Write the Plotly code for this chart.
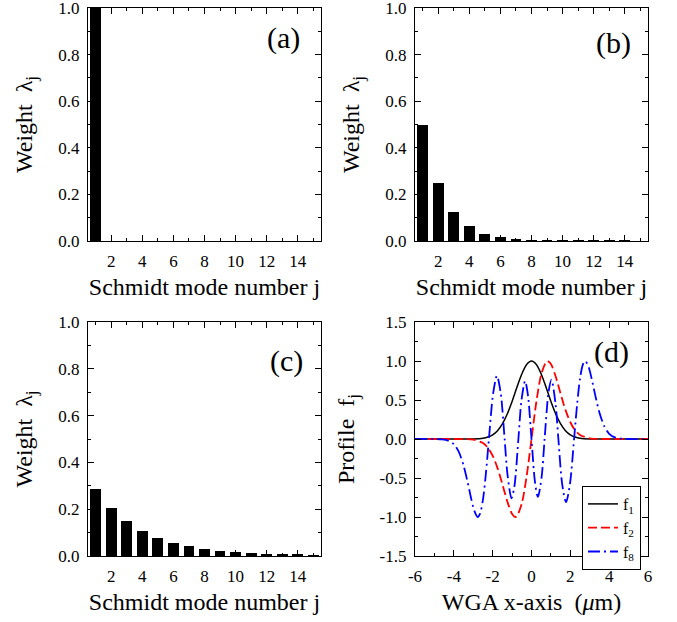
import plotly.graph_objects as go

# ---------------- data ----------------
modes = [1, 2, 3, 4, 5, 6, 7, 8, 9, 10, 11, 12, 13, 14, 15]
weights_a = [1.0, 0, 0, 0, 0, 0, 0, 0, 0, 0, 0, 0, 0, 0, 0]
weights_b = [0.5, 0.25, 0.125, 0.0625, 0.031, 0.016, 0.008, 0.004, 0.002,
             0.001, 0.0005, 0.0003, 0.0001, 0.0001, 0.0]
weights_c = [0.286, 0.205, 0.148, 0.106, 0.077, 0.056, 0.041, 0.030, 0.022,
             0.016, 0.012, 0.009, 0.007, 0.005, 0.004]

x_f12 = [-6, -5, -4, -3.5, -3, -2.5, -2.25, -2, -1.75, -1.5, -1.25, -1, -0.83,
         -0.75, -0.5, -0.25, 0, 0.25, 0.5, 0.75, 0.83, 1, 1.25, 1.5, 1.75, 2,
         2.25, 2.5, 3, 3.5, 4, 5, 6]
f1 = [0, 0, 0, 0, 0.001, 0.010, 0.025, 0.054, 0.107, 0.194, 0.320, 0.482, 0.605,
      0.663, 0.833, 0.955, 1.0, 0.955, 0.833, 0.663, 0.605, 0.482, 0.320, 0.194,
      0.107, 0.054, 0.025, 0.010, 0.001, 0, 0, 0, 0]
f2 = [0, 0, 0, -0.001, -0.008, -0.052, -0.111, -0.215, -0.373, -0.579, -0.797,
      -0.961, -1.0, -0.987, -0.827, -0.476, 0, 0.476, 0.827, 0.987, 1.0, 0.961,
      0.797, 0.579, 0.373, 0.215, 0.111, 0.052, 0.008, 0.001, 0, 0, 0]

x_f8 = [-6, -5, -4.6, -4.3, -4.0, -3.75, -3.5, -3.3, -3.1, -2.95, -2.77, -2.65,
        -2.5, -2.35, -2.193, -1.98, -1.78, -1.58, -1.384, -1.24, -1.03, -0.88,
        -0.675, -0.52, -0.33, -0.18, 0, 0.18, 0.33, 0.52, 0.675, 0.88, 1.03,
        1.24, 1.384, 1.58, 1.78, 1.98, 2.193, 2.35, 2.5, 2.65, 2.77, 2.95, 3.1,
        3.3, 3.5, 3.75, 4.0, 4.3, 4.6, 5, 6]
f8 = [0, 0, -0.005, -0.020, -0.067, -0.163, -0.338, -0.542, -0.771, -0.917, -1.0,
      -0.957, -0.776, -0.446, 0, 0.577, 0.81, 0.578, 0, -0.447, -0.76, -0.607,
      0, 0.489, 0.743, 0.554, 0, -0.554, -0.743, -0.489, 0, 0.607, 0.76, 0.447,
      0, -0.578, -0.81, -0.577, 0, 0.446, 0.776, 0.957, 1.0, 0.917, 0.771,
      0.542, 0.338, 0.163, 0.067, 0.020, 0.005, 0, 0]

mode_ticks = [2, 4, 6, 8, 10, 12, 14]
weight_ticks = [0.0, 0.2, 0.4, 0.6, 0.8, 1.0]
profile_ticks = [-1.5, -1.0, -0.5, 0.0, 0.5, 1.0, 1.5]
profile_ticktext = ["-1.5", "-1.0", "-0.5", "0.0", "0.5", "1.0", "1.5"]
wga_ticks = [-6, -4, -2, 0, 2, 4, 6]
wga_ticktext = ["-6", "-4", "-2", "0", "2", "4", "6"]

# ---------------- layout helpers ----------------
W, H = 677, 622
FONT = "'Liberation Serif', 'Times New Roman', Times, serif"


def xdom(x0, x1):
    return [x0 / W, x1 / W]


def ydom(ytop, ybot):
    return [1 - ybot / H, 1 - ytop / H]


def base_axis(**kw):
    d = dict(showline=True, linecolor="black", linewidth=1.2, mirror="allticks",
             ticks="inside", ticklen=6, tickwidth=1.2, tickcolor="black",
             showgrid=False, zeroline=False, ticklabelstandoff=4, automargin=False,
             ticklabeloverflow="allow",
             tickfont=dict(family=FONT, size=17, color="black"),
             title_font=dict(family=FONT, size=24, color="black"))
    d.update(kw)
    return d


fig = go.Figure()

panels = [("x", "y", weights_a), ("x2", "y2", weights_b), ("x3", "y3", weights_c)]
for xa, ya, w in panels:
    fig.add_trace(go.Bar(x=modes, y=w, width=0.7, marker_color="black",
                         marker_line_width=0, xaxis=xa, yaxis=ya, showlegend=False))

fig.add_trace(go.Scatter(x=x_f12, y=f1, mode="lines", name="f<sub>1</sub>",
                         line=dict(color="black", width=1.5, shape="spline", smoothing=0.8),
                         xaxis="x4", yaxis="y4"))
fig.add_trace(go.Scatter(x=x_f12, y=f2, mode="lines", name="f<sub>2</sub>",
                         line=dict(color="#ff0000", width=1.8, dash="9px,4px",
                                   shape="spline", smoothing=0.8),
                         xaxis="x4", yaxis="y4"))
fig.add_trace(go.Scatter(x=x_f8, y=f8, mode="lines", name="f<sub>8</sub>",
                         line=dict(color="#0000ff", width=1.8, dash="12px,4px,2px,4px",
                                   shape="spline", smoothing=0.8),
                         xaxis="x4", yaxis="y4"))

mode_axis = dict(range=[0.5, 15.5], tickmode="array", tickvals=mode_ticks,
                 minor=dict(tickmode="linear", tick0=1, dtick=2, ticks="inside",
                            ticklen=3, tickwidth=1.2, tickcolor="black"),
                 title=dict(text="Schmidt mode number j", standoff=8))
weight_axis = dict(range=[0, 1.0], tickmode="array", tickvals=weight_ticks,
                   tickformat=".1f",
                   minor=dict(tickmode="linear", tick0=0.1, dtick=0.2, ticks="inside",
                              ticklen=3, tickwidth=1.2, tickcolor="black"),
                   title=dict(text="Weight  λ<sub>j</sub>", standoff=18))

L = xdom(88, 321)
R = xdom(415, 648)
T = ydom(8, 241)
B = ydom(322, 556)

fig.update_layout(
    width=W, height=H, autosize=False,
    margin=dict(l=0, r=0, t=0, b=0),
    paper_bgcolor="white", plot_bgcolor="white",
    font=dict(family=FONT, size=17, color="black"),
    bargap=0,
    xaxis=base_axis(domain=L, anchor="y", **mode_axis),
    yaxis=base_axis(domain=T, anchor="x", **weight_axis),
    xaxis2=base_axis(domain=R, anchor="y2", **mode_axis),
    yaxis2=base_axis(domain=T, anchor="x2", **weight_axis),
    xaxis3=base_axis(domain=L, anchor="y3", **mode_axis),
    yaxis3=base_axis(domain=B, anchor="x3", **weight_axis),
    xaxis4=base_axis(domain=R, anchor="y4", range=[-6, 6], tickmode="array",
                     tickvals=wga_ticks, ticktext=wga_ticktext,
                     minor=dict(tickmode="linear", tick0=-5, dtick=2, ticks="inside",
                                ticklen=3, tickwidth=1.2, tickcolor="black"),
                     title=dict(text="WGA x-axis  (<i>μ</i>m)", standoff=8)),
    yaxis4=base_axis(domain=B, anchor="x4", range=[-1.5, 1.5], tickmode="array",
                     tickvals=profile_ticks, ticktext=profile_ticktext,
                     minor=dict(tickmode="linear", tick0=-1.25, dtick=0.5, ticks="inside",
                                ticklen=3, tickwidth=1.2, tickcolor="black"),
                     title=dict(text="Profile  f<sub>j</sub>", standoff=18)),
    legend=dict(x=582 / W, y=1 - 486 / H, xanchor="left", yanchor="top",
                bordercolor="black", borderwidth=1, bgcolor="white",
                font=dict(family=FONT, size=16, color="black"),
                tracegroupgap=0, itemwidth=30),
)

labels = [("x", "y", "(a)", 0.84, 0.87), ("x2", "y2", "(b)", 0.85, 0.85),
          ("x3", "y3", "(c)", 0.85, 0.835), ("x4", "y4", "(d)", 0.845, 0.87)]
for xa, ya, txt, lx, ly in labels:
    fig.add_annotation(text=txt, xref=f"{xa} domain", yref=f"{ya} domain",
                       x=lx, y=ly, xanchor="center", yanchor="middle", showarrow=False,
                       font=dict(family=FONT, size=30, color="black"))

fig.write_html("out.html", config={"displayModeBar": False},
               post_script="document.body.style.margin='0';document.body.style.padding='0';")
